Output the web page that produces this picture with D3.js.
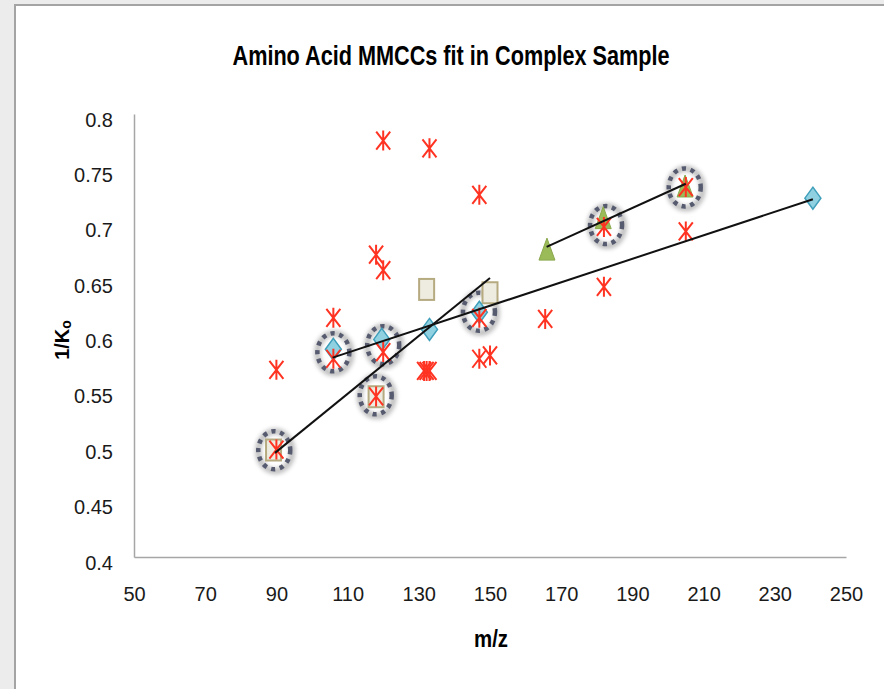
<!DOCTYPE html>
<html>
<head>
<meta charset="utf-8">
<script src="https://cdn.jsdelivr.net/npm/d3@7"></script>
<style>
  html, body { margin: 0; padding: 0; background: #ececec; }
  svg { display: block; }
</style>
</head>
<body>
<svg id="chart" width="884" height="689"></svg>
<script>
// Axis ticks
const xTicks = [50, 70, 90, 110, 130, 150, 170, 190, 210, 230, 250];
const yTicks = [0.4, 0.45, 0.5, 0.55, 0.6, 0.65, 0.7, 0.75, 0.8];

// Measured points (red asterisks)
const starX = [90, 90, 106, 106, 120, 118, 120, 120, 118, 133, 131.5, 132.2, 133, 147, 147, 147, 150, 165.5, 182, 182, 205, 205];
const starY = [0.569, 0.497, 0.616, 0.579, 0.776, 0.673, 0.659, 0.585, 0.545, 0.769, 0.568, 0.568, 0.568, 0.727, 0.616, 0.579, 0.582, 0.615, 0.644, 0.698, 0.734, 0.694];

// Calibrant series
const diamondX = [106, 119.6, 133, 147, 240.7];
const diamondY = [0.5875, 0.5965, 0.6055, 0.621, 0.724];
const squareX = [89.2, 118, 132.2, 150];
const squareY = [0.4966, 0.5447, 0.6416, 0.6386];
const triangleX = [166, 181.8, 204.8];
const triangleY = [0.678, 0.7064, 0.735];

// Highlighted matches (dashed rings)
const ringX = [89.4, 106, 120, 117.9, 146.9, 182.6, 204.7];
const ringY = [0.4964, 0.5848, 0.5913, 0.546, 0.6214, 0.6997, 0.7337];

// Linear fit segments: [x1, y1] to [x2, y2]
const fitX1 = [89.6, 105.8, 165.9];
const fitY1 = [0.494, 0.580, 0.680];
const fitX2 = [150, 240.7, 205];
const fitY2 = [0.652, 0.723, 0.737];

const svg = d3.select("#chart");
const W = 884, H = 689;

// Page frame
svg.append("rect").attr("width", W).attr("height", H).attr("fill", "#ececec");
svg.append("rect").attr("x", 15).attr("y", 5).attr("width", W - 15).attr("height", H - 5).attr("fill", "#ffffff");
svg.append("line").attr("x1", 15).attr("y1", 4).attr("x2", 15).attr("y2", H)
  .attr("stroke", "#a4a4a4").attr("stroke-width", 2);
svg.append("line").attr("x1", 14).attr("y1", 5).attr("x2", W).attr("y2", 5)
  .attr("stroke", "#a4a4a4").attr("stroke-width", 2);

const x = d3.scaleLinear().domain([50, 250]).range([134, 846]);
const y = d3.scaleLinear().domain([0.4, 0.8]).range([557, 114]);

const defs = svg.append("defs");
const glow = defs.append("filter").attr("id", "glow")
  .attr("x", "-50%").attr("y", "-50%").attr("width", "200%").attr("height", "200%");
glow.append("feGaussianBlur").attr("stdDeviation", 2.2);

const labelFont = "'Liberation Sans', Arial, sans-serif";
const narrowFont = "'Liberation Sans Narrow', 'Liberation Sans', Arial, sans-serif";

// Axes (no tick marks)
const xAxis = d3.axisBottom(x).tickValues(xTicks).tickSize(0).tickPadding(0).tickFormat(d3.format("d"));
const yAxis = d3.axisLeft(y).tickValues(yTicks).tickSize(0).tickPadding(0).tickFormat(d => String(+d.toFixed(2)));

const gx = svg.append("g").attr("transform", `translate(0,${y(0.4)})`).call(xAxis);
gx.select(".domain").attr("stroke", "#a6a6a6").attr("stroke-width", 1.5);
gx.selectAll(".tick text")
  .attr("font-family", labelFont).attr("font-size", 20).attr("fill", "#1a1a1a")
  .attr("dy", null).attr("y", 44);

const gy = svg.append("g").attr("transform", `translate(${x(50)},0)`).call(yAxis);
gy.select(".domain").attr("stroke", "#a6a6a6").attr("stroke-width", 1.5);
gy.selectAll(".tick text")
  .attr("font-family", labelFont).attr("font-size", 20).attr("fill", "#1a1a1a")
  .attr("dy", null).attr("x", -21).attr("y", 12);

// Titles
svg.append("text").attr("x", 451).attr("y", 65).attr("text-anchor", "middle")
  .attr("font-family", narrowFont)
  .attr("font-weight", "bold").attr("font-size", 28)
  .attr("textLength", 437).attr("lengthAdjust", "spacingAndGlyphs")
  .attr("fill", "#000").text("Amino Acid MMCCs fit in Complex Sample");

svg.append("text").attr("x", 491).attr("y", 647).attr("text-anchor", "middle")
  .attr("font-family", narrowFont).attr("font-weight", "bold").attr("font-size", 23)
  .attr("textLength", 34).attr("lengthAdjust", "spacingAndGlyphs")
  .attr("fill", "#000").text("m/z");

const yt = svg.append("text").attr("transform", "translate(69,340) rotate(-90)")
  .attr("text-anchor", "middle")
  .attr("font-family", labelFont).attr("font-weight", "bold").attr("font-size", 20)
  .attr("fill", "#000");
yt.append("tspan").text("1/K");
yt.append("tspan").attr("font-size", 14).attr("dy", 2).text("o");

const plot = svg.append("g");

// Ring halos and dashed rings
const ringPts = ringX.map((v, i) => ({ x: v, y: ringY[i] }));
plot.append("g").selectAll("ellipse").data(ringPts).join("ellipse")
  .attr("cx", d => x(d.x) + 1).attr("cy", d => y(d.y) + 1)
  .attr("rx", 17).attr("ry", 20)
  .attr("fill", "none").attr("stroke", "#8a8a8a").attr("stroke-width", 6)
  .attr("opacity", 0.55).attr("filter", "url(#glow)");
plot.append("g").selectAll("ellipse").data(ringPts).join("ellipse")
  .attr("cx", d => x(d.x)).attr("cy", d => y(d.y))
  .attr("rx", 16).attr("ry", 19)
  .attr("fill", "none").attr("stroke", "#575b70").attr("stroke-width", 4.5)
  .attr("stroke-dasharray", "4.2 4.6");

// Squares
const sqPts = squareX.map((v, i) => ({ x: v, y: squareY[i] }));
plot.append("g").selectAll("rect").data(sqPts).join("rect")
  .attr("x", d => x(d.x) - 7.5).attr("y", d => y(d.y) - 10.5)
  .attr("width", 15).attr("height", 21)
  .attr("fill", "#eeece1").attr("stroke", "#b5aa80").attr("stroke-width", 2);

// Diamonds
const dmPts = diamondX.map((v, i) => ({ x: v, y: diamondY[i] }));
plot.append("g").selectAll("path").data(dmPts).join("path")
  .attr("d", d => {
    const cx = x(d.x), cy = y(d.y);
    return `M${cx},${cy - 11}L${cx + 8},${cy}L${cx},${cy + 11}L${cx - 8},${cy}Z`;
  })
  .attr("fill", "#8fd0e1").attr("stroke", "#3f9fba").attr("stroke-width", 1.5);

// Triangles
const trPts = triangleX.map((v, i) => ({ x: v, y: triangleY[i] }));
plot.append("g").selectAll("path").data(trPts).join("path")
  .attr("d", d => {
    const cx = x(d.x), cy = y(d.y);
    return `M${cx},${cy - 11}L${cx + 8},${cy + 11}L${cx - 8},${cy + 11}Z`;
  })
  .attr("fill", "#9bbb59").attr("stroke", "#8aa84c").attr("stroke-width", 1);

// Asterisks
const stPts = starX.map((v, i) => ({ x: v, y: starY[i] }));
plot.append("g").selectAll("path").data(stPts).join("path")
  .attr("d", d => {
    const cx = x(d.x), cy = y(d.y);
    return `M${cx - 7},${cy - 9}L${cx + 7},${cy + 9}M${cx + 7},${cy - 9}L${cx - 7},${cy + 9}M${cx},${cy - 10}L${cx},${cy + 10}`;
  })
  .attr("fill", "none").attr("stroke", "#ff3322").attr("stroke-width", 2);

// Fit lines
const fits = fitX1.map((v, i) => ({ x1: v, y1: fitY1[i], x2: fitX2[i], y2: fitY2[i] }));
plot.append("g").selectAll("line").data(fits).join("line")
  .attr("x1", d => x(d.x1)).attr("y1", d => y(d.y1))
  .attr("x2", d => x(d.x2)).attr("y2", d => y(d.y2))
  .attr("stroke", "#111").attr("stroke-width", 2);
</script>
</body>
</html>
